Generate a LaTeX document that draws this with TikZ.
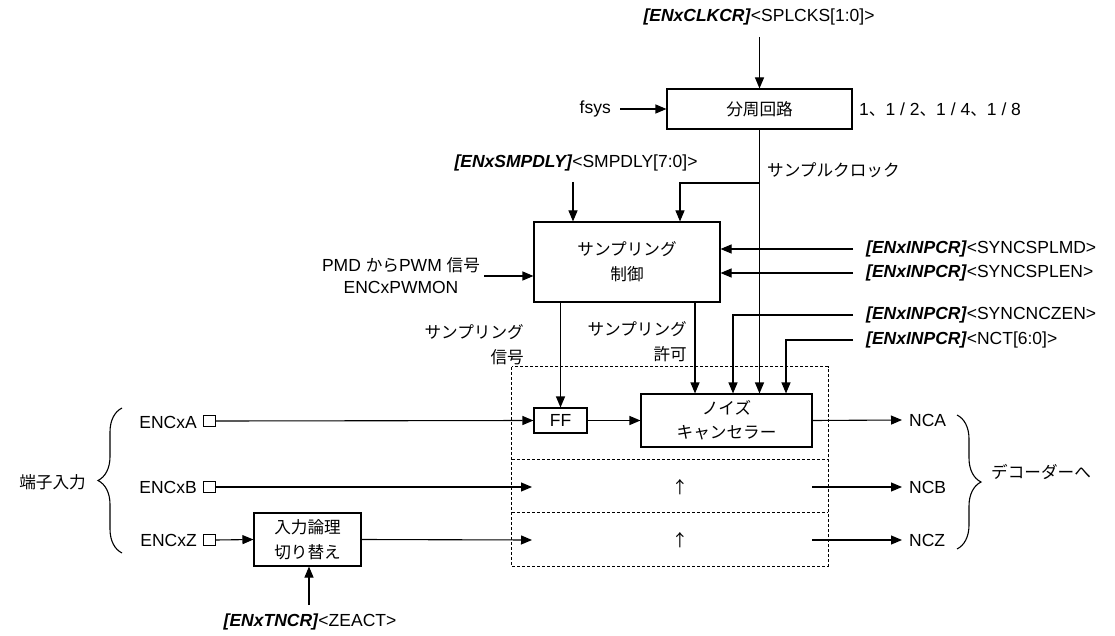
\documentclass[tikz,border=0pt]{standalone}
\usepackage{fontspec}
\setmainfont{Liberation Sans}
\newfontfamily\jp[Scale=0.95]{Noto Sans CJK JP}
\usetikzlibrary{arrows.meta,decorations.pathreplacing}
\begin{document}
\begin{tikzpicture}[x=1pt,y=-1pt,
  every node/.style={font=\fontsize{17.5}{25}\selectfont, inner sep=0pt},
  jpf/.style={font=\fontsize{17.5}{25}\selectfont\jp},
  blk/.style={draw, line width=1.1pt, align=center},
  arr/.style={-{Triangle[length=11pt,width=9pt]}, line width=1.1pt},
  ln/.style={line width=1.1pt},
  dsh/.style={draw, line width=0.8pt, dash pattern=on 3pt off 2pt},
  pin/.style={draw, line width=0.9pt, minimum width=12pt, minimum height=11pt},
  rlab/.style={anchor=west, inner xsep=13pt},
  olab/.style={anchor=west, inner xsep=7pt},
  brc/.style={line width=1.1pt, decorate, decoration={brace, amplitude=24pt}}
]
\useasboundingbox (0,0) rectangle (1115,636);

% top part
\node (clk) at (759,17) {\textbf{\textit{[ENxCLKCR]}}<SPLCKS[1:0]>};
\node[blk, jpf, minimum width=185pt, minimum height=40pt] (div) at (759.5,109) {分周回路};
\node[anchor=east] (fsys) at (611,109) {fsys};
\node[anchor=west] (ratio) at (859,110) {1{\jp 、}1 / 2{\jp 、}1 / 4{\jp 、}1 / 8};
\node (dly) at (576,163) {\textbf{\textit{[ENxSMPDLY]}}<SMPDLY[7:0]>};
\node[anchor=west, jpf] (ck) at (767,170) {サンプルクロック};

% sampling control
\node[blk, jpf, minimum width=186pt, minimum height=80pt] (sc) at (627,262) {サンプリング\\制御};
\node[align=center, inner xsep=4pt, font=\fontsize{17.5}{22}\selectfont] (pmd) at (401,276) {PMD {\jp から}PWM {\jp 信号}\\ENCxPWMON};
\node[rlab] (r1) at (853,249) {\textbf{\textit{[ENxINPCR]}}<SYNCSPLMD>};
\node[rlab] (r2) at (853,273) {\textbf{\textit{[ENxINPCR]}}<SYNCSPLEN>};
\node[rlab] (r3) at (853,315) {\textbf{\textit{[ENxINPCR]}}<SYNCNCZEN>};
\node[rlab] (r4) at (853,340) {\textbf{\textit{[ENxINPCR]}}<NCT[6:0]>};
\node[jpf, align=right, anchor=east] (ss) at (524,345) {サンプリング\\信号};
\node[jpf, align=right, anchor=east] (sp) at (687,342) {サンプリング\\許可};

% dashed rows
\node[minimum width=316pt, minimum height=93pt] (rowA) at (670,413.5) {};
\node[minimum width=316pt, minimum height=53pt] (rowB) at (670,486.5) {};
\node[minimum width=316pt, minimum height=53pt] (rowC) at (670,539.5) {};
\draw[dsh] (rowA.north west) rectangle (rowC.south east);
\draw[dsh] (rowB.north west) -- (rowB.north east);
\draw[dsh] (rowC.north west) -- (rowC.north east);

\node[blk, minimum width=53pt, minimum height=25pt] (ff) at (560.5,420.5) {FF};
\node[blk, minimum width=171pt, minimum height=53pt, font=\fontsize{17.5}{24}\selectfont\jp] (nc) at (726.5,420.5) {ノイズ\\キャンセラー};
\node[jpf] (ub) at (680,487) {↑};
\node[jpf] (uc) at (680,540) {↑};

% inputs
\node[pin] (pa) at (209,421) {};
\node[pin] (pb) at (209,487) {};
\node[pin] (pz) at (209,540) {};
\node[anchor=east] (ta) at (197,422) {ENCxA};
\node[anchor=east] (tb) at (197,487) {ENCxB};
\node[anchor=east] (tz) at (197,540) {ENCxZ};
\node[anchor=east, jpf] (tin) at (86,482) {端子入力};
\node[blk, jpf, minimum width=107pt, minimum height=53pt] (lg) at (307.5,539.5) {入力論理\\切り替え};
\node (ze) at (310,622) {\textbf{\textit{[ENxTNCR]}}<ZEACT>};

% outputs
\node[olab] (nca) at (902,420) {NCA};
\node[olab] (ncb) at (902,487) {NCB};
\node[olab] (ncz) at (902,540) {NCZ};
\node[anchor=west, jpf] (dec) at (991,472) {デコーダーへ};

% coordinates
\coordinate (clkb) at (759.5,37);
\coordinate (dlyb) at (573,182);
\coordinate (br) at (759.5,183);
\coordinate (zetop) at (309,605);
\coordinate (bi) at (532,487);
\coordinate (zi) at (532,540);
\coordinate (bo) at (812,487);
\coordinate (zo) at (812,540);

% connectors
\draw[arr] (clkb) -- (div.north);
\draw[arr] ([xshift=9pt]fsys.east) -- (div.west);
\draw[arr] (div.south) -- (div.south |- nc.north);
\draw[arr] (br) -| ([xshift=53pt]sc.north);
\draw[arr] (dlyb) -- (dlyb |- sc.north);
\draw[arr] (pmd.east) -- (pmd.east -| sc.west);
\draw[arr] (r1.west) -- (r1.west -| sc.east);
\draw[arr] (r2.west) -- (r2.west -| sc.east);
\draw[arr] (r3.west) -| ([xshift=6.5pt]nc.north);
\draw[arr] (r4.west) -| ([xshift=59.5pt]nc.north);
\draw[arr] (sc.south -| ff.north) -- (ff.north);
\draw[arr] ([xshift=68pt]sc.south) -- ([xshift=68pt]sc.south |- nc.north);
\draw[arr] (pa.east) -- (ff.west);
\draw[arr] (ff.east) -- (nc.west);
\draw[arr] (nc.east) -- (nca.west);
\draw[arr] (pb.east) -- (bi);
\draw[arr] (bo) -- (ncb.west);
\draw[arr] (pz.east) -- (lg.west);
\draw[arr] (lg.east) -- (zi);
\draw[arr] (zo) -- (ncz.west);
\draw[arr] (zetop) -- (zetop |- lg.south);

% braces
\draw[brc] (122,553) -- (122,408);
\draw[brc] (957,415) -- (957,549);
\end{tikzpicture}
\end{document}
